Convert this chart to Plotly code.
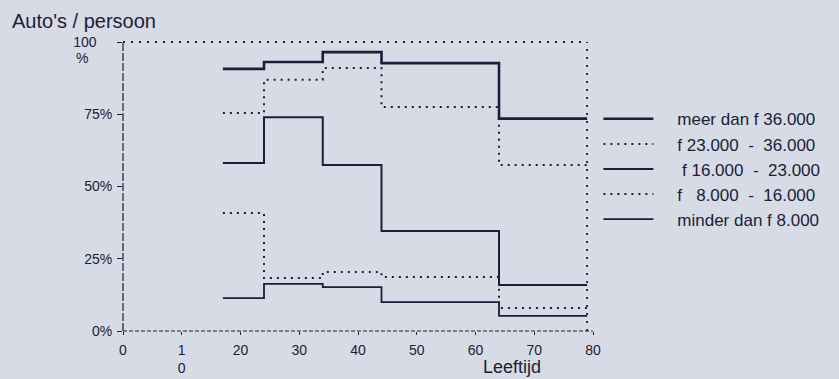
import plotly.graph_objects as go

# ---- data ----
age_edges = [17, 24, 34, 44, 64, 79]          # step boundaries (years)
NB = "\u00a0"
series_names = [
    "meer dan f 36.000",
    "f 23.000" + NB * 2 + "-" + NB * 2 + "36.000",
    NB + "f 16.000" + NB * 2 + "-" + NB * 2 + "23.000",
    "f" + NB * 3 + "8.000" + NB * 2 + "-" + NB * 2 + "16.000",
    "minder dan f 8.000",
]
meer_36000 = [90.7, 93.1, 96.5, 92.7, 73.5]
f23_36 = [75.4, 86.9, 91.0, 77.5, 57.4]
f16_23 = [58.1, 74.0, 57.4, 34.6, 15.9]
f8_16 = [40.8, 18.3, 20.4, 18.7, 8.0]
minder_8000 = [11.4, 16.3, 15.2, 10.0, 5.2]

x_tickvals = [0, 10, 20, 30, 40, 50, 60, 70, 80]
x_ticktext = ["0", "1<br>0", "20", "30", "40", "50", "60", "70", "80"]
y_tickvals = [0, 25, 50, 75, 100]
y_ticktext = ["0%", "25%", "50%", "75%", "100" + NB * 4]

# ---- styling ----
BG = "#d7dbe5"
INK = "#1c2136"
LINE = "#1a1f3a"
FONT = "Liberation Sans, Arial, Helvetica, sans-serif"

styles = [
    dict(width=2.6, dash="solid"),
    dict(width=2.0, dash="2px,5px"),
    dict(width=2.0, dash="solid"),
    dict(width=2.0, dash="2px,5px"),
    dict(width=1.8, dash="solid"),
]
values = [meer_36000, f23_36, f16_23, f8_16, minder_8000]

fig = go.Figure()
for name, vals, st in zip(series_names, values, styles):
    fig.add_trace(go.Scatter(
        x=age_edges,
        y=vals + [vals[-1]],
        mode="lines",
        line=dict(shape="hv", color=LINE, width=st["width"], dash=st["dash"]),
        name=NB * 4 + name,
    ))

W, H = 839, 379
left, right, top, bottom = 123, 593, 42, 331

fig.update_layout(
    width=W, height=H,
    margin=dict(l=left, r=W - right, t=top, b=H - bottom, autoexpand=False),
    paper_bgcolor=BG, plot_bgcolor=BG,
    font=dict(family=FONT, color=INK, size=13),
    showlegend=True,
    legend=dict(
        x=1.0115, y=0.795, xanchor="left", yanchor="top",
        bgcolor="rgba(0,0,0,0)", borderwidth=0,
        font=dict(size=17, family=FONT, color=INK),
        itemwidth=50, tracegroupgap=0,
    ),
    title=dict(
        text="Auto's / persoon",
        x=12 / W, xref="container", xanchor="left",
        y=1 - 21 / H, yref="container", yanchor="middle",
        font=dict(size=20, family=FONT, color=INK),
    ),
    xaxis=dict(
        range=[0, 80], tickvals=x_tickvals, ticktext=x_ticktext,
        showgrid=False, zeroline=False, showline=False,
        ticks="outside", ticklen=3, tickcolor=INK, tickwidth=1,
        ticklabelstandoff=3,
        tickfont=dict(size=14, color=INK), fixedrange=True,
    ),
    yaxis=dict(
        range=[0, 100], tickvals=y_tickvals, ticktext=y_ticktext,
        showgrid=False, zeroline=False, showline=False,
        ticks="outside", ticklen=5, tickcolor=INK, tickwidth=1,
        ticklabelstandoff=2,
        tickfont=dict(size=14, color=INK), fixedrange=True,
    ),
)

# "%" under the 100 tick label
fig.add_annotation(text="%", xref="x", yref="y", x=0, y=100, xshift=-41, yshift=-16,
                   showarrow=False, font=dict(size=14, family=FONT, color=INK))

# axes and dotted frame
fig.add_shape(type="line", xref="x domain", yref="y domain", x0=0, x1=0, y0=0, y1=1,
              line=dict(color=INK, width=1.2, dash="8px,2px"))
fig.add_shape(type="line", xref="x domain", yref="y domain", x0=0, x1=1, y0=0, y1=0,
              line=dict(color=INK, width=1.2, dash="4px,2px"))
fig.add_shape(type="line", xref="x", yref="y domain", x0=0, x1=age_edges[-1], y0=1, y1=1,
              line=dict(color=INK, width=1.8, dash="2px,6px"))
fig.add_shape(type="line", xref="x", yref="y domain", x0=age_edges[-1], x1=age_edges[-1], y0=0, y1=1,
              line=dict(color=INK, width=1.8, dash="2px,6px"))

fig.add_annotation(text="Leeftijd", xref="paper", yref="paper",
                   x=(512 - left) / (right - left), y=-(367 - bottom) / (bottom - top),
                   xanchor="center", yanchor="middle", showarrow=False,
                   font=dict(size=18, family=FONT, color=INK))

fig.write_html(
    "out.html",
    config={"displayModeBar": False},
    post_script="document.body.style.margin='0';document.body.style.background='" + BG + "';",
)
